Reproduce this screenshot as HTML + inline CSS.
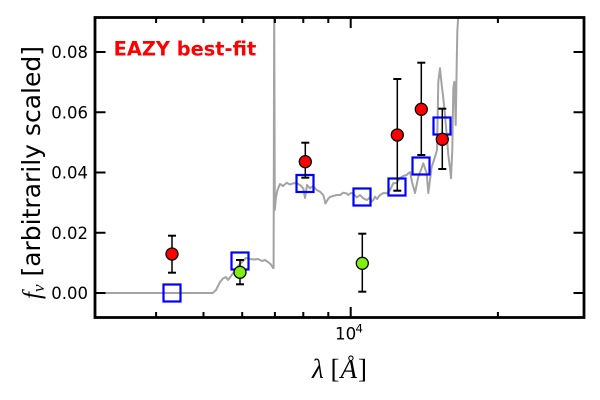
<!DOCTYPE html>
<html>
<head>
<meta charset="utf-8">
<style>
  html, body { margin: 0; padding: 0; background: #ffffff; }
  svg { display: block; }
</style>
</head>
<body>
<svg width="600" height="400" viewBox="0 0 600 400" xmlns="http://www.w3.org/2000/svg">
  <defs>
    <clipPath id="plot">
      <rect x="95" y="17.5" width="489" height="300"/>
    </clipPath>
  </defs>
  <rect x="0" y="0" width="600" height="400" fill="#ffffff"/>

  <!-- SED line -->
  <g clip-path="url(#plot)">
    <polyline fill="none" stroke="#a3a3a3" stroke-width="2" stroke-linejoin="round"
      points="95,293 212.7,293 216,290 220,282 223,278.5 226,277 228,280 231,276 234,272 237,268 240,264 243,261 246,258 250,259 254,259.5 258,259 262,261 265,260 268,262 271,264.5 273,268 273.6,268 274.2,5 274.8,210 276,197 277.5,190 280,184 283,186 286.7,182.7 290,184.5 293.3,183.3 296.7,183.3 300,185 303.3,188.3 305,198 307,185 310,188.3 313,186 316.7,190 320,191.7 323.3,195 325.5,203.5 328,199 330,197 333,196 336.7,195 340,195 343.3,192.7 346.7,193.5 348.3,195 351,193 353.3,193.5 356.7,197.5 360,195 363.3,198.3 366.7,200 368.3,199 370,197 371.7,201.7 373.3,200 375,196.7 377,199 380,195 383.3,193 386.7,193.3 390,190 393.3,183.3 396.7,183 400,178 403.3,176 406.7,175 408.3,173.3 410,172 412,182 415,193 418.3,176.7 421,170 423.3,163.3 426.7,173.3 428.3,193 431.7,166.7 435,157 437,150 438.3,82 440,68.3 441.7,85 443.3,98.3 445,115 446.7,135 448.3,155 450,168.3 451,178.3 452.3,150 453.3,88.3 454.3,81.7 455,98.3 455.7,125 456.7,65 457.3,31.7 458.3,15 460,-10"/>
  </g>

  <!-- Model squares -->
  <g fill="none" stroke="#0000ff" stroke-width="2.2">
    <rect x="163.5" y="284.5" width="17" height="17"/>
    <rect x="231.5" y="252.5" width="17" height="17"/>
    <rect x="296.5" y="175" width="17" height="17"/>
    <rect x="353.5" y="188.5" width="17" height="17"/>
    <rect x="388.5" y="178.5" width="17" height="17"/>
    <rect x="412.5" y="157.5" width="17" height="17"/>
    <rect x="433.5" y="117.5" width="17" height="17"/>
  </g>

  <!-- Error bars -->
  <g stroke="#000000" fill="none">
    <g stroke-width="1.5">
      <line x1="172" y1="235.7" x2="172" y2="272.7"/>
      <line x1="305.3" y1="142.7" x2="305.3" y2="177.7"/>
      <line x1="397.3" y1="79" x2="397.3" y2="190.7"/>
      <line x1="421.3" y1="62.7" x2="421.3" y2="155"/>
      <line x1="442.3" y1="108.7" x2="442.3" y2="169"/>
      <line x1="240" y1="260" x2="240" y2="284.3"/>
      <line x1="362.3" y1="233.7" x2="362.3" y2="291.7"/>
    </g>
    <g stroke-width="2">
      <line x1="168" y1="235.7" x2="176" y2="235.7"/><line x1="168" y1="272.7" x2="176" y2="272.7"/>
      <line x1="301.3" y1="142.7" x2="309.3" y2="142.7"/><line x1="301.3" y1="177.7" x2="309.3" y2="177.7"/>
      <line x1="393.3" y1="79" x2="401.3" y2="79"/><line x1="393.3" y1="190.7" x2="401.3" y2="190.7"/>
      <line x1="417.3" y1="62.7" x2="425.3" y2="62.7"/><line x1="417.3" y1="155" x2="425.3" y2="155"/>
      <line x1="438.3" y1="108.7" x2="446.3" y2="108.7"/><line x1="438.3" y1="169" x2="446.3" y2="169"/>
      <line x1="236" y1="260" x2="244" y2="260"/><line x1="236" y1="284.3" x2="244" y2="284.3"/>
      <line x1="358.3" y1="233.7" x2="366.3" y2="233.7"/><line x1="358.3" y1="291.7" x2="366.3" y2="291.7"/>
    </g>
  </g>

  <!-- Data points -->
  <g stroke="#000000" stroke-width="1.3">
    <circle cx="172" cy="254" r="6" fill="#ff0000"/>
    <circle cx="305.3" cy="161.7" r="6" fill="#ff0000"/>
    <circle cx="397.3" cy="135" r="6" fill="#ff0000"/>
    <circle cx="421.3" cy="109.3" r="6" fill="#ff0000"/>
    <circle cx="442.3" cy="139.3" r="6" fill="#ff0000"/>
    <circle cx="240" cy="272.3" r="6" fill="#80ee10"/>
    <circle cx="362.3" cy="263.3" r="6" fill="#80ee10"/>
  </g>

  <!-- Ticks -->
  <g stroke="#000000" stroke-width="2">
    <line x1="95" y1="293" x2="105.5" y2="293"/>
    <line x1="95" y1="232.75" x2="105.5" y2="232.75"/>
    <line x1="95" y1="172.5" x2="105.5" y2="172.5"/>
    <line x1="95" y1="112.25" x2="105.5" y2="112.25"/>
    <line x1="95" y1="52" x2="105.5" y2="52"/>
    <line x1="584" y1="293" x2="573.5" y2="293"/>
    <line x1="584" y1="232.75" x2="573.5" y2="232.75"/>
    <line x1="584" y1="172.5" x2="573.5" y2="172.5"/>
    <line x1="584" y1="112.25" x2="573.5" y2="112.25"/>
    <line x1="584" y1="52" x2="573.5" y2="52"/>
    <line x1="350.7" y1="317.5" x2="350.7" y2="307"/>
    <line x1="350.7" y1="17.5" x2="350.7" y2="28"/>
    <line x1="156.1" y1="317.5" x2="156.1" y2="312"/>
    <line x1="203.5" y1="317.5" x2="203.5" y2="312"/>
    <line x1="242.2" y1="317.5" x2="242.2" y2="312"/>
    <line x1="274.9" y1="317.5" x2="274.9" y2="312"/>
    <line x1="303.3" y1="317.5" x2="303.3" y2="312"/>
    <line x1="328.3" y1="317.5" x2="328.3" y2="312"/>
    <line x1="497.9" y1="317.5" x2="497.9" y2="312"/>
    <line x1="156.1" y1="17.5" x2="156.1" y2="23"/>
    <line x1="203.5" y1="17.5" x2="203.5" y2="23"/>
    <line x1="242.2" y1="17.5" x2="242.2" y2="23"/>
    <line x1="274.9" y1="17.5" x2="274.9" y2="23"/>
    <line x1="303.3" y1="17.5" x2="303.3" y2="23"/>
    <line x1="328.3" y1="17.5" x2="328.3" y2="23"/>
    <line x1="497.9" y1="17.5" x2="497.9" y2="23"/>
  </g>

  <!-- Frame -->
  <rect x="95" y="17.5" width="489" height="300" fill="none" stroke="#000000" stroke-width="2.8"/>

  <!-- Y tick labels -->
  <g font-family="'DejaVu Sans', 'Liberation Sans', sans-serif" font-size="16.5" fill="#000000" text-anchor="end">
    <text x="88" y="299">0.00</text>
    <text x="88" y="238.75">0.02</text>
    <text x="88" y="178.5">0.04</text>
    <text x="88" y="118.25">0.06</text>
    <text x="88" y="58">0.08</text>
  </g>

  <!-- X tick label 10^4 -->
  <text x="335" y="339.3" font-family="'DejaVu Sans', 'Liberation Sans', sans-serif" font-size="16.7" fill="#000000">10</text>
  <text x="355.5" y="332.7" font-family="'DejaVu Sans', 'Liberation Sans', sans-serif" font-size="11.7" fill="#000000">4</text>

  <!-- EAZY label -->
  <text x="113.6" y="55.7" font-family="'DejaVu Sans', 'Liberation Sans', sans-serif" font-weight="bold" font-size="19.4" fill="#ff0000">EAZY best-fit</text>

  <!-- X axis label -->
  <text x="312" y="378" font-family="'Liberation Serif', 'DejaVu Serif', serif" font-size="27" fill="#000000"><tspan font-style="italic">λ</tspan> [<tspan font-style="italic" dx="1">Å</tspan><tspan dx="1">]</tspan></text>

  <!-- Y axis label -->
  <g transform="translate(40,299) rotate(-90)">
    <text x="0" y="0" fill="#000000"><tspan font-family="'Liberation Serif', 'DejaVu Serif', serif" font-style="italic" font-size="25">f</tspan><tspan font-family="'Liberation Serif', 'DejaVu Serif', serif" font-style="italic" font-size="17" dy="4">ν</tspan><tspan font-family="'DejaVu Sans', 'Liberation Sans', sans-serif" font-size="25" dy="-4"> [arbitrarily scaled]</tspan></text>
  </g>
</svg>
</body>
</html>
